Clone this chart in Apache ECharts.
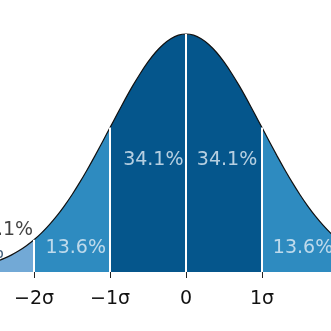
<!DOCTYPE html>
<html><head><meta charset="utf-8">
<script src="https://cdn.jsdelivr.net/npm/echarts@6/dist/echarts.min.js"></script>
<style>html,body{margin:0;padding:0;background:#fff}#c{width:331px;height:331px}</style>
</head><body><div id="c"></div>
<script>
// curve (x in σ units, density)
const sigmaX = [-2.5,-2.4,-2.3,-2.2,-2.1,-2.0,-1.9,-1.8,-1.7,-1.6,-1.5,-1.4,-1.3,-1.2,-1.1,-1.0,-0.9,-0.8,-0.7,-0.6,-0.5,-0.4,-0.3,-0.2,-0.1,0,
  0.1,0.2,0.3,0.4,0.5,0.6,0.7,0.8,0.9,1.0,1.1,1.2,1.3,1.4,1.5,1.6,1.7,1.8,1.9,2.0,2.1];
const density = [0.0175,0.0224,0.0283,0.0355,0.0440,0.0540,0.0656,0.0790,0.0940,0.1109,0.1295,0.1497,0.1714,0.1942,0.2179,0.2420,0.2661,0.2897,0.3123,0.3332,0.3521,0.3683,0.3814,0.3910,0.3970,0.3989,
  0.3970,0.3910,0.3814,0.3683,0.3521,0.3332,0.3123,0.2897,0.2661,0.2420,0.2179,0.1942,0.1714,0.1497,0.1295,0.1109,0.0940,0.0790,0.0656,0.0540,0.0440];
const bandEdges = [-2.5,-2,-1,0,1,2.1];
const bandLabels = ['0.1%','2.1%','13.6%','34.1%','34.1%','13.6%'];
const labelAnchors = [[-2.71,0.032],[-2.33,0.0704],[-1.45,0.040],[-0.43,0.1877],[0.54,0.1877],[1.54,0.040]];
const tickValues = [-2,-1,0,1];
const sepValues = [-2,-1,0,1,2];

const bandColors = ['#72a9d6','#2e8bc0','#05568c','#05568c','#2e8bc0'];
const labelColors = ['#0a2f55','#111111','#e2edf6','#e2edf6','#e2edf6','#e2edf6'];

const pts = sigmaX.map((x,i)=>[x,density[i]]);
const dens = x => density[sigmaX.findIndex(v=>Math.abs(v-x)<1e-9)];

const series = [];
for (let b=0;b<bandEdges.length-1;b++){
  const lo=bandEdges[b], hi=bandEdges[b+1];
  series.push({type:'line',smooth:0.3,symbol:'none',silent:true,
    data:pts.filter(p=>p[0]>=lo-1e-9&&p[0]<=hi+1e-9),
    lineStyle:{width:0},areaStyle:{color:bandColors[b],opacity:1},z:1});
}
series.push({type:'line',smooth:0.3,symbol:'none',silent:true,data:pts,
  lineStyle:{color:'#111',width:1.2},z:3,
  markLine:{silent:true,symbol:['none','none'],label:{show:false},
    lineStyle:{color:'#ffffff',width:2,type:'solid'},
    data:sepValues.map(v=>[{coord:[v,0]},{coord:[v,dens(v)]}])}});
series.push({type:'scatter',clip:false,symbolSize:0,silent:true,z:5,
  data:labelAnchors.map((a,i)=>({value:a,name:bandLabels[i],
    label:{color:labelColors[i]}})),
  label:{show:true,position:'inside',formatter:p=>p.name,
    fontFamily:'DejaVu Sans',fontSize:19}});

const chart = echarts.init(document.getElementById('c'),null,{renderer:'canvas'});
chart.setOption({
  animation:false,
  grid:{left:0,right:0,top:0,bottom:59,containLabel:false},
  xAxis:{type:'value',min:-2.4474,max:1.9079,offset:2,
    axisLine:{show:false},splitLine:{show:false},
    axisTick:{show:true,length:6,customValues:tickValues,lineStyle:{color:'#222',width:1}},
    axisLabel:{customValues:tickValues,margin:16,color:'#111',fontFamily:'DejaVu Sans',fontSize:19,
      formatter:v=>v===0?'0':(v<0?'\u2212':'')+Math.abs(v)+'\u03c3'}},
  yAxis:{type:'value',min:0,max:0.4559,show:false},
  series
});
</script></body></html>
